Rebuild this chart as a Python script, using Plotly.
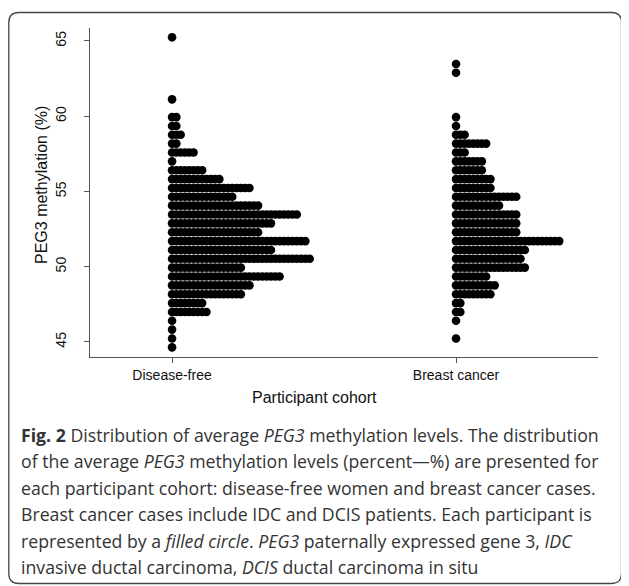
import plotly.graph_objects as go

# ---------------- data ----------------
cohorts = ["Disease-free", "Breast cancer"]
cohort_pos = [1, 2]

# methylation level (bin centre, %) of each dot row, top to bottom
levels = [65.24, 64.65, 64.06, 63.47, 62.89, 62.30, 61.71, 61.12, 60.53,
          59.94, 59.35, 58.77, 58.18, 57.59, 57.00, 56.41, 55.82, 55.23,
          54.65, 54.06, 53.47, 52.88, 52.29, 51.70, 51.11, 50.53, 49.94,
          49.35, 48.76, 48.17, 47.58, 46.99, 46.41, 45.82, 45.23, 44.64]

# number of participants in each row
disease_free_counts = [1, 0, 0, 0, 0, 0, 0, 1, 0,
                       2, 2, 3, 2, 6, 1, 8, 12, 19,
                       15, 21, 30, 24, 21, 32, 24, 33, 17,
                       26, 19, 17, 8, 9, 1, 1, 1, 1]
breast_cancer_counts = [0, 0, 0, 1, 1, 0, 0, 0, 0,
                        1, 1, 3, 8, 3, 7, 7, 9, 9,
                        15, 11, 15, 15, 15, 25, 17, 16, 17,
                        8, 10, 9, 2, 2, 1, 0, 1, 0]

y_ticks = [45, 50, 55, 60, 65]

# ---------------- geometry ----------------
# the page body has an 8 px margin, so the figure is drawn 8 px in from the
# window's top-left corner; OFF converts window pixels to figure pixels
OFF = 8
W, H = 629 - OFF, 586 - OFF
L = 90 - OFF                 # y axis line at window x = 90
T = 28 - OFF                 # plot top at window y = 28
R = W - (598 - OFF)          # plot right at window x = 598
B = H - (357 - OFF)          # x axis line at window y = 357
plot_w = W - L - R
plot_h = H - T - B
x_range = [0.711, 2.5]
y_range = [44.0, 65.86]
px_per_x = plot_w / (x_range[1] - x_range[0])
dot_step = 4.3 / px_per_x  # horizontal step between stacked dots


def expand(pos, counts):
    xs, ys = [], []
    for lev, c in zip(levels, counts):
        for j in range(c):
            xs.append(pos + j * dot_step)
            ys.append(lev)
    return xs, ys


fig = go.Figure()
for pos, counts in zip(cohort_pos, [disease_free_counts, breast_cancer_counts]):
    xs, ys = expand(pos, counts)
    fig.add_trace(go.Scatter(x=xs, y=ys, mode="markers",
                             marker=dict(size=8.6, color="black", line=dict(width=0)),
                             showlegend=False, hoverinfo="skip"))

axis_col = "#555555"
sans = "Liberation Sans, Arial"
fig.update_layout(
    width=W, height=H,
    margin=dict(l=L, r=R, t=T, b=B, pad=0),
    paper_bgcolor="white", plot_bgcolor="white",
    font=dict(family=sans, color="black"),
    xaxis=dict(range=x_range, tickvals=cohort_pos, ticktext=cohorts,
               showline=True, linecolor=axis_col, linewidth=1,
               ticks="outside", ticklen=5, tickcolor=axis_col,
               tickfont=dict(size=14, family=sans, color="#111"),
               showgrid=False, zeroline=False, fixedrange=True),
    yaxis=dict(range=y_range, tickvals=y_ticks, tickangle=-90,
               showline=True, linecolor=axis_col, linewidth=1,
               ticks="outside", ticklen=5, tickcolor=axis_col,
               ticklabelstandoff=12,
               tickfont=dict(size=14, family=sans, color="#111"),
               showgrid=False, zeroline=False, fixedrange=True),
)


def py(win_y):
    return (H - B - (win_y - OFF)) / plot_h


def px(win_x):
    return ((win_x - OFF) - L) / plot_w


# axis titles
fig.add_annotation(text="PEG3 methylation (%)", textangle=-90,
                   xref="paper", yref="paper", x=px(41), y=py(185),
                   xanchor="center", yanchor="middle",
                   showarrow=False, font=dict(size=16, family=sans, color="#111"))
fig.add_annotation(text="Participant cohort",
                   xref="paper", yref="paper", x=px(314), y=py(397),
                   xanchor="center", yanchor="middle",
                   showarrow=False, font=dict(size=16, family=sans, color="#111"))

# caption
caption_lines = [
    "<b>Fig. 2</b> Distribution of average <i>PEG3</i> methylation levels. The distribution",
    "of the average <i>PEG3</i> methylation levels (percent\u2014%) are presented for",
    "each participant cohort: disease-free women and breast cancer cases.",
    "Breast cancer cases include IDC and DCIS patients. Each participant is",
    "represented by a <i>filled circle</i>. <i>PEG3</i> paternally expressed gene 3, <i>IDC</i>",
    "invasive ductal carcinoma, <i>DCIS</i> ductal carcinoma in situ",
]
cap_y0, cap_dy = 435, 26.4
for i, line in enumerate(caption_lines):
    fig.add_annotation(text=line, xref="paper", yref="paper",
                       x=px(19), y=py(cap_y0 + i * cap_dy),
                       xanchor="left", yanchor="middle", showarrow=False,
                       font=dict(size=17.7, family="Open Sans", color="#333"))

# rounded frame (window coords 8.8..621.5 x 12.5..583.5)
x0, x1, y0, y1, r = px(8.8), px(621.5), py(12.5), py(583.5), 10
rx, ry = r / plot_w, r / plot_h
path = (f"M {x0+rx},{y0} L {x1-rx},{y0} Q {x1},{y0} {x1},{y0-ry} "
        f"L {x1},{y1+ry} Q {x1},{y1} {x1-rx},{y1} L {x0+rx},{y1} "
        f"Q {x0},{y1} {x0},{y1+ry} L {x0},{y0-ry} Q {x0},{y0} {x0+rx},{y0} Z")
fig.add_shape(type="path", path=path, xref="paper", yref="paper",
              line=dict(color="#444", width=1.3), fillcolor="rgba(0,0,0,0)", layer="below")

fig.write_html("out.html")
